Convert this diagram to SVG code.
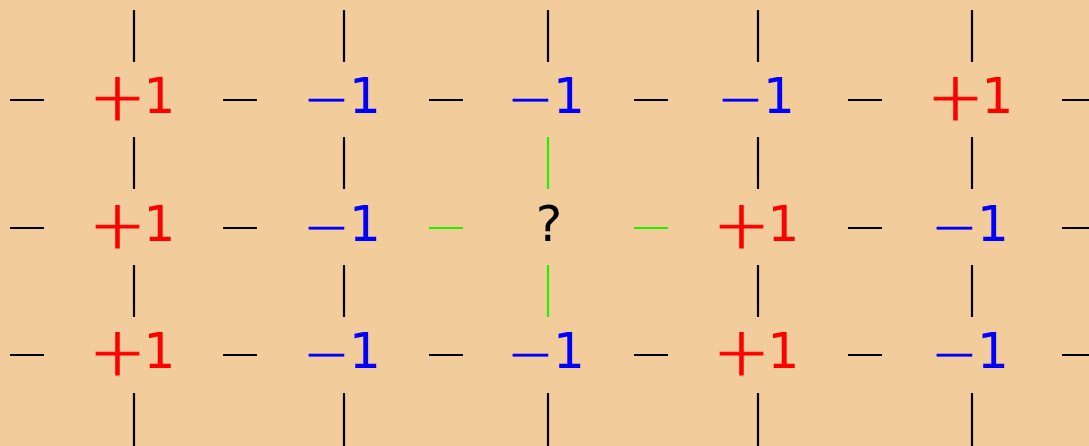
<svg xmlns="http://www.w3.org/2000/svg" width="1089" height="446" viewBox="0 0 1089 446">
<style>
.bg{fill:#f2cc9b}
.e{stroke:#000;stroke-width:2.2;stroke-linecap:butt}
.g{stroke:#22ee00}
text{font-family:"DejaVu Sans",sans-serif;font-size:50px}
.p{fill:#ff0000}
.m{fill:#0000ff}
.q{fill:#000}
.sp{font-size:68px;font-family:"DejaVu Sans ExtraLight","DejaVu Sans",sans-serif;font-weight:200;stroke:#ff0000;stroke-width:1.1}
.sm{font-size:56px;font-family:"DejaVu Sans ExtraLight","DejaVu Sans",sans-serif;font-weight:200;stroke:#0000ff;stroke-width:0.6}
</style>
<rect class="bg" x="0" y="0" width="1089" height="446"/>
<g id="connectors">
<line class="e" x1="134" y1="10" x2="134" y2="62"/>
<line class="e" x1="344" y1="10" x2="344" y2="62"/>
<line class="e" x1="548" y1="10" x2="548" y2="62"/>
<line class="e" x1="758" y1="10" x2="758" y2="62"/>
<line class="e" x1="972" y1="10" x2="972" y2="62"/>
<line class="e" x1="134" y1="137" x2="134" y2="189"/>
<line class="e" x1="344" y1="137" x2="344" y2="189"/>
<line class="e g" x1="548" y1="137" x2="548" y2="189"/>
<line class="e" x1="758" y1="137" x2="758" y2="189"/>
<line class="e" x1="972" y1="137" x2="972" y2="189"/>
<line class="e" x1="134" y1="265" x2="134" y2="317"/>
<line class="e" x1="344" y1="265" x2="344" y2="317"/>
<line class="e g" x1="548" y1="265" x2="548" y2="317"/>
<line class="e" x1="758" y1="265" x2="758" y2="317"/>
<line class="e" x1="972" y1="265" x2="972" y2="317"/>
<line class="e" x1="134" y1="393" x2="134" y2="446"/>
<line class="e" x1="344" y1="393" x2="344" y2="446"/>
<line class="e" x1="548" y1="393" x2="548" y2="446"/>
<line class="e" x1="758" y1="393" x2="758" y2="446"/>
<line class="e" x1="972" y1="393" x2="972" y2="446"/>
<line class="e" x1="10" y1="100" x2="44" y2="100"/>
<line class="e" x1="223" y1="100" x2="257" y2="100"/>
<line class="e" x1="429" y1="100" x2="463" y2="100"/>
<line class="e" x1="634" y1="100" x2="668" y2="100"/>
<line class="e" x1="848" y1="100" x2="882" y2="100"/>
<line class="e" x1="1062" y1="100" x2="1096" y2="100"/>
<line class="e" x1="10" y1="228" x2="44" y2="228"/>
<line class="e" x1="223" y1="228" x2="257" y2="228"/>
<line class="e g" x1="429" y1="228" x2="463" y2="228"/>
<line class="e g" x1="634" y1="228" x2="668" y2="228"/>
<line class="e" x1="848" y1="228" x2="882" y2="228"/>
<line class="e" x1="1062" y1="228" x2="1096" y2="228"/>
<line class="e" x1="10" y1="355" x2="44" y2="355"/>
<line class="e" x1="223" y1="355" x2="257" y2="355"/>
<line class="e" x1="429" y1="355" x2="463" y2="355"/>
<line class="e" x1="634" y1="355" x2="668" y2="355"/>
<line class="e" x1="848" y1="355" x2="882" y2="355"/>
<line class="e" x1="1062" y1="355" x2="1096" y2="355"/>
</g>
<g id="s11"><text class="p"><tspan class="sp" x="89" y="120">+</tspan><tspan x="143.5" y="113">1</tspan></text></g>
<g id="s12"><text class="m"><tspan class="sm" x="303" y="117.6">−</tspan><tspan x="349" y="113">1</tspan></text></g>
<g id="s13"><text class="m"><tspan class="sm" x="507" y="117.6">−</tspan><tspan x="553" y="113">1</tspan></text></g>
<g id="s14"><text class="m"><tspan class="sm" x="717" y="117.6">−</tspan><tspan x="763" y="113">1</tspan></text></g>
<g id="s15"><text class="p"><tspan class="sp" x="927" y="120">+</tspan><tspan x="981.5" y="113">1</tspan></text></g>
<g id="s21"><text class="p"><tspan class="sp" x="89" y="248">+</tspan><tspan x="143.5" y="241">1</tspan></text></g>
<g id="s22"><text class="m"><tspan class="sm" x="303" y="245.6">−</tspan><tspan x="349" y="241">1</tspan></text></g>
<g id="s23"><text class="q" x="549" y="241" text-anchor="middle">?</text></g>
<g id="s24"><text class="p"><tspan class="sp" x="713" y="248">+</tspan><tspan x="767.5" y="241">1</tspan></text></g>
<g id="s25"><text class="m"><tspan class="sm" x="931" y="245.6">−</tspan><tspan x="977" y="241">1</tspan></text></g>
<g id="s31"><text class="p"><tspan class="sp" x="89" y="375">+</tspan><tspan x="143.5" y="368">1</tspan></text></g>
<g id="s32"><text class="m"><tspan class="sm" x="303" y="372.6">−</tspan><tspan x="349" y="368">1</tspan></text></g>
<g id="s33"><text class="m"><tspan class="sm" x="507" y="372.6">−</tspan><tspan x="553" y="368">1</tspan></text></g>
<g id="s34"><text class="p"><tspan class="sp" x="713" y="375">+</tspan><tspan x="767.5" y="368">1</tspan></text></g>
<g id="s35"><text class="m"><tspan class="sm" x="931" y="372.6">−</tspan><tspan x="977" y="368">1</tspan></text></g>
</svg>
